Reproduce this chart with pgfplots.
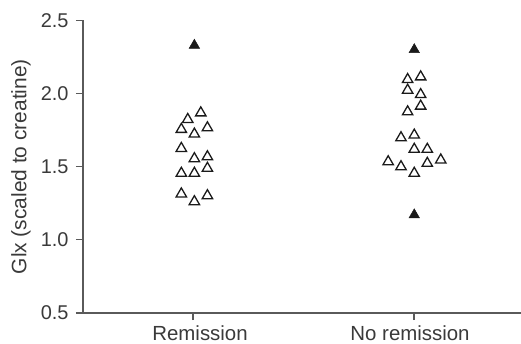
\documentclass[border=0pt]{standalone}
\usepackage{pgfplots}
\pgfplotsset{compat=1.18}
\usepackage{fontspec}
\setmainfont{Liberation Sans}
\definecolor{axgray}{HTML}{5A5A5A}
\definecolor{txtgray}{HTML}{3A3A3A}
\definecolor{mk}{HTML}{1A1A1A}
\begin{document}
\begin{tikzpicture}
\path[use as bounding box] (-83bp,-31bp) rectangle (438bp,313bp);
\begin{axis}[
  scale only axis,
  width=438bp, height=292.6bp,
  xmin=-0.498, xmax=1.484,
  ymin=0.5, ymax=2.5,
  axis x line=bottom, axis y line=left,
  axis line style={-, axgray, line width=1.4bp},
  every tick/.style={axgray, line width=1.2bp},
  tick align=outside,
  major tick length=7bp,
  xtick={0,1}, xticklabels={\hspace*{14bp}Remission, No remission\hspace*{8bp}},
  ytick={0.5,1.0,1.5,2.0,2.5},
  /pgf/number format/assume math mode=true,
  tick label style={font=\fontsize{20}{24}\selectfont, text=txtgray},
  yticklabel style={xshift=-4bp, /pgf/number format/.cd, fixed, fixed zerofill, precision=1},
  xticklabel style={font=\fontsize{20.5}{24}\selectfont, text=txtgray, inner sep=0pt, yshift=-5.5bp},
  ylabel={Glx (scaled to creatine)},
  ylabel style={font=\fontsize{21}{25}\selectfont, text=txtgray, at={(axis description cs:0,0.5)}, anchor=center, yshift=62bp},
  clip=false,
]
\addplot[only marks, mark=triangle, mark size=6bp, mark options={draw=mk, line width=1.3bp}] coordinates {
(0.035,1.868) (-0.024,1.823) (-0.053,1.755) (0.065,1.766) (0.006,1.723)
(-0.053,1.625) (0.006,1.555) (0.065,1.568) (-0.053,1.455) (0.006,1.455)
(0.065,1.489) (-0.053,1.314) (0.006,1.261) (0.065,1.302)
};
\addplot[only marks, mark=triangle*, mark size=6bp, mark options={draw=mk, fill=mk, line width=0.5bp}] coordinates {
(0.006,2.33)
};
\addplot[only marks, mark=triangle, mark size=6bp, mark options={draw=mk, line width=1.3bp}] coordinates {
(1.030,2.114) (0.971,2.096) (0.971,2.023) (1.030,1.993) (1.030,1.914)
(0.971,1.875) (0.941,1.698) (1.001,1.716) (1.001,1.619) (1.060,1.619)
(0.883,1.534) (0.941,1.500) (1.001,1.455) (1.060,1.523) (1.121,1.546)
};
\addplot[only marks, mark=triangle*, mark size=6bp, mark options={draw=mk, fill=mk, line width=0.5bp}] coordinates {
(1.001,2.30) (1.001,1.171)
};
\end{axis}
\end{tikzpicture}
\end{document}
